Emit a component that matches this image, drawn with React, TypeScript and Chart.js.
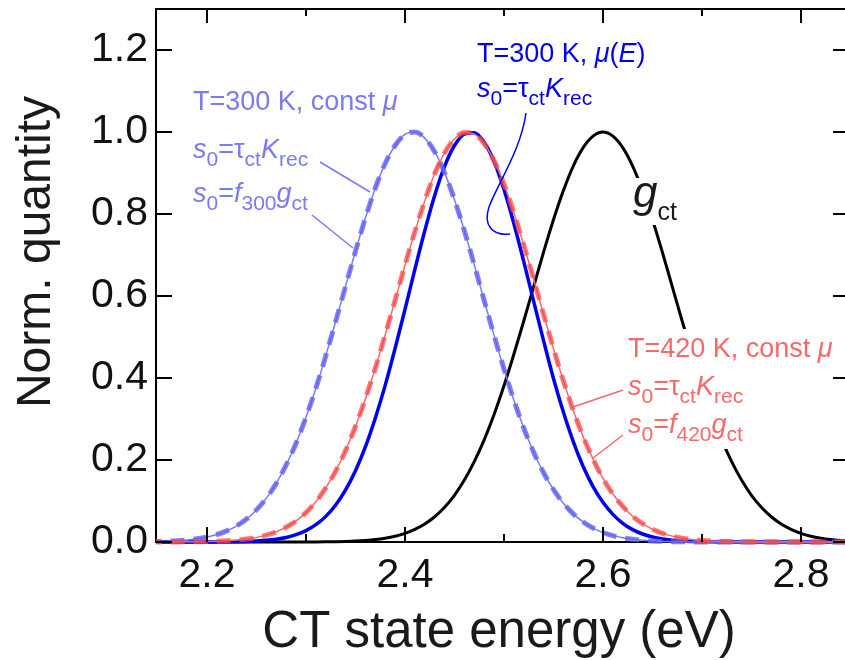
import React, { useEffect, useRef } from "react";
import { Chart, registerables } from "chart.js";

Chart.register(...registerables);

const FONT = "'Liberation Sans', Arial, Helvetica, sans-serif";

// CT state energy grid (eV)
const energy = [
  2.14, 2.15, 2.16, 2.17, 2.18, 2.19, 2.2, 2.21, 2.22, 2.23, 2.24, 2.25, 2.26, 2.27, 2.28, 2.29,
  2.3, 2.31, 2.32, 2.33, 2.34, 2.35, 2.36, 2.37, 2.38, 2.39, 2.4, 2.41, 2.42, 2.43, 2.44, 2.45,
  2.46, 2.47, 2.48, 2.49, 2.5, 2.51, 2.52, 2.53, 2.54, 2.55, 2.56, 2.57, 2.58, 2.59, 2.6, 2.61,
  2.62, 2.63, 2.64, 2.65, 2.66, 2.67, 2.68, 2.69, 2.7, 2.71, 2.72, 2.73, 2.74, 2.75, 2.76, 2.77,
  2.78, 2.79, 2.8, 2.81, 2.82, 2.83, 2.84, 2.85,
];

// T=300 K, const mu (light blue)
const s300Const = [
  0.0007, 0.0011, 0.0019, 0.0031, 0.005, 0.0078, 0.0121, 0.0183, 0.0271, 0.0394, 0.0561, 0.0783, 0.107, 0.143, 0.188, 0.241,
  0.304, 0.375, 0.454, 0.538, 0.624, 0.709, 0.79, 0.863, 0.923, 0.967, 0.994, 1.0, 0.985, 0.952, 0.901, 0.835,
  0.759, 0.676, 0.589, 0.504, 0.422, 0.346, 0.278, 0.219, 0.169, 0.128, 0.0946, 0.0687, 0.0489, 0.034, 0.0232, 0.0155,
  0.0102, 0.0065, 0.0041, 0.0025, 0.0015, 0.0009, 0.0005, 0.0003, 0.0002, 0.0001, 0, 0, 0, 0, 0, 0,
  0, 0, 0, 0, 0, 0, 0, 0,
];

// T=420 K, const mu (red)
const s420Const = [
  0, 0.0001, 0.0001, 0.0002, 0.0004, 0.0006, 0.0011, 0.0018, 0.0029, 0.0046, 0.0072, 0.0111, 0.0168, 0.0249, 0.0361, 0.0514,
  0.0717, 0.0981, 0.132, 0.173, 0.223, 0.282, 0.349, 0.424, 0.505, 0.589, 0.675, 0.757, 0.832, 0.898, 0.949, 0.983,
  0.999, 0.995, 0.972, 0.93, 0.873, 0.803, 0.724, 0.641, 0.555, 0.472, 0.393, 0.321, 0.257, 0.202, 0.155, 0.117,
  0.0867, 0.0629, 0.0447, 0.0312, 0.0213, 0.0143, 0.0094, 0.006, 0.0038, 0.0023, 0.0014, 0.0008, 0.0005, 0.0003, 0.0002, 0.0001,
  0, 0, 0, 0, 0, 0, 0, 0,
];

// T=300 K, mu(E) (blue)
const s300MuE = [
  0, 0, 0, 0, 0, 0, 0.0001, 0.0002, 0.0004, 0.0007, 0.0013, 0.0023, 0.004, 0.0068, 0.0111, 0.0178,
  0.0278, 0.0422, 0.0625, 0.0902, 0.127, 0.174, 0.232, 0.302, 0.382, 0.472, 0.567, 0.665, 0.759, 0.845, 0.916, 0.967,
  0.995, 0.998, 0.975, 0.928, 0.86, 0.777, 0.684, 0.587, 0.491, 0.399, 0.317, 0.245, 0.184, 0.135, 0.0968, 0.0674,
  0.0457, 0.0302, 0.0195, 0.0122, 0.0075, 0.0045, 0.0026, 0.0015, 0.0008, 0.0004, 0.0002, 0.0001, 0, 0, 0, 0,
  0, 0, 0, 0, 0, 0, 0, 0,
];

// g_ct (black)
const gct = [
  0, 0, 0, 0, 0, 0, 0, 0, 0, 0, 0, 0, 0, 0, 0, 0,
  0.0002, 0.0003, 0.0005, 0.0009, 0.0015, 0.0024, 0.0039, 0.0061, 0.0094, 0.0142, 0.0211, 0.0308, 0.0439, 0.0616, 0.0847, 0.114,
  0.151, 0.196, 0.249, 0.311, 0.381, 0.458, 0.539, 0.623, 0.707, 0.786, 0.857, 0.917, 0.962, 0.99, 1.0, 0.99,
  0.962, 0.917, 0.857, 0.786, 0.707, 0.623, 0.539, 0.458, 0.381, 0.311, 0.249, 0.196, 0.151, 0.114, 0.0847, 0.0616,
  0.0439, 0.0308, 0.0211, 0.0142, 0.0094, 0.0061, 0.0039, 0.0024,
];

const xMajorTicks = [2.2, 2.4, 2.6, 2.8];
const xMinorTicks = [2.3, 2.5, 2.7];
const xTickLabels = ["2.2", "2.4", "2.6", "2.8"];
const yTicks = [0, 0.2, 0.4, 0.6, 0.8, 1.0, 1.2];
const yTickLabels = ["0.0", "0.2", "0.4", "0.6", "0.8", "1.0", "1.2"];

const xTitle = "CT state energy (eV)";
const yTitle = "Norm. quantity";

const LIGHT_BLUE = "#7a7af6";
const LIGHT_BLUE_DASH = "rgba(95,95,240,0.78)";
const RED = "#f46a6a";
const RED_DASH = "rgba(250,70,70,0.72)";
const BLUE = "#0000f0";

type Seg = [string, number]; // 0 normal, 1 italic, 2 sub, 3 sub italic

function drawRich(ctx: CanvasRenderingContext2D, x: number, y: number, segs: Seg[], color: string, size: number, subSize: number, drop: number) {
  let cx = x;
  ctx.fillStyle = color;
  ctx.textAlign = "left";
  ctx.textBaseline = "alphabetic";
  for (const [t, s] of segs) {
    const italic = s === 1 || s === 3;
    const sub = s >= 2;
    ctx.font = `${italic ? "italic " : ""}${sub ? subSize : size}px ${FONT}`;
    ctx.fillText(t, cx, sub ? y + drop : y);
    cx += ctx.measureText(t).width;
  }
}

const framePlugin = {
  id: "frameAndNotes",
  afterDatasetsDraw(chart: any) {
    const { ctx } = chart;
    ctx.save();
    // white knock-out boxes behind labels that sit on the g_ct curve
    ctx.fillStyle = "#fff";
    ctx.fillRect(628, 178, 52, 47);
    ctx.fillRect(624, 329, 218, 120);
    ctx.restore();
  },
  afterDraw(chart: any) {
    const { ctx, chartArea: a, scales } = chart;
    const x = scales.x;
    const y = scales.y;
    ctx.save();
    ctx.strokeStyle = "#000";
    ctx.lineWidth = 2;
    ctx.beginPath();
    ctx.moveTo(a.left - 1, a.top);
    ctx.lineTo(a.right + 2, a.top);
    ctx.stroke();
    ctx.beginPath();
    for (const v of xMajorTicks) {
      const px = Math.round(x.getPixelForValue(v));
      ctx.moveTo(px, a.bottom);
      ctx.lineTo(px, a.bottom - 15);
      ctx.moveTo(px, a.top);
      ctx.lineTo(px, a.top + 14);
    }
    for (const v of xMinorTicks) {
      const px = Math.round(x.getPixelForValue(v));
      ctx.moveTo(px, a.bottom);
      ctx.lineTo(px, a.bottom - 8);
      ctx.moveTo(px, a.top);
      ctx.lineTo(px, a.top + 7);
    }
    for (const v of yTicks) {
      const py = Math.round(y.getPixelForValue(v));
      ctx.moveTo(a.left, py);
      ctx.lineTo(a.left + 16, py);
      ctx.moveTo(a.right + 5, py);
      ctx.lineTo(a.right - 12, py);
    }
    ctx.stroke();

    // axis titles
    ctx.fillStyle = "#1a1a1a";
    ctx.font = `51px ${FONT}`;
    ctx.textAlign = "center";
    ctx.textBaseline = "alphabetic";
    ctx.fillText(xTitle, 499, 647);
    ctx.save();
    ctx.translate(50, 252);
    ctx.rotate(-Math.PI / 2);
    ctx.font = `48px ${FONT}`;
    ctx.fillText(yTitle, 0, 0);
    ctx.restore();

    // annotations: T=300 K const mu (light blue)
    drawRich(ctx, 193, 110, [["T=300 K, const ", 0], ["\u03bc", 1]], LIGHT_BLUE, 27, 21, 8);
    drawRich(ctx, 193, 158, [["s", 1], ["0", 2], ["=\u03c4", 0], ["ct", 2], ["K", 1], ["rec", 2]], LIGHT_BLUE, 27, 21, 8);
    drawRich(ctx, 193, 202, [["s", 1], ["0", 2], ["=", 0], ["f", 1], ["300", 2], ["g", 1], ["ct", 2]], LIGHT_BLUE, 27, 21, 8);
    ctx.strokeStyle = LIGHT_BLUE;
    ctx.lineWidth = 1.5;
    ctx.beginPath();
    ctx.moveTo(320, 162);
    ctx.lineTo(370, 192);
    ctx.moveTo(312, 215);
    ctx.lineTo(353, 248);
    ctx.stroke();

    // T=300 K mu(E) (blue)
    drawRich(ctx, 477, 62, [["T=300 K, ", 0], ["\u03bc", 1], ["(", 0], ["E", 1], [")", 0]], BLUE, 27, 21, 8);
    drawRich(ctx, 477, 97, [["s", 1], ["0", 2], ["=\u03c4", 0], ["ct", 2], ["K", 1], ["rec", 2]], BLUE, 27, 21, 8);
    ctx.strokeStyle = BLUE;
    ctx.lineWidth = 1.5;
    ctx.beginPath();
    ctx.moveTo(526, 113);
    ctx.bezierCurveTo(521, 150, 497, 185, 489, 207);
    ctx.bezierCurveTo(483, 225, 492, 236, 510, 234);
    ctx.stroke();

    // T=420 K const mu (red)
    drawRich(ctx, 628, 357, [["T=420 K, const ", 0], ["\u03bc", 1]], RED, 27, 21, 8);
    drawRich(ctx, 628, 395, [["s", 1], ["0", 2], ["=\u03c4", 0], ["ct", 2], ["K", 1], ["rec", 2]], RED, 27, 21, 8);
    drawRich(ctx, 628, 433, [["s", 1], ["0", 2], ["=", 0], ["f", 1], ["420", 2], ["g", 1], ["ct", 2]], RED, 27, 21, 8);
    ctx.strokeStyle = RED;
    ctx.lineWidth = 1.5;
    ctx.beginPath();
    ctx.moveTo(623, 390);
    ctx.lineTo(573, 407);
    ctx.moveTo(623, 435);
    ctx.lineTo(593, 458);
    ctx.stroke();

    // g_ct label
    drawRich(ctx, 633, 207, [["g", 1], ["ct", 2]], "#1a1a1a", 44, 25, 13);
    ctx.restore();
  },
};

function pts(vals: number[]) {
  return energy.map((e, i) => ({ x: e, y: vals[i] }));
}

export default function App() {
  const ref = useRef<HTMLCanvasElement>(null);
  useEffect(() => {
    if (!ref.current) return;
    const clip = { left: 0, top: 0, right: 0, bottom: 6 };
    const base = { pointRadius: 0, fill: false, cubicInterpolationMode: "monotone" as const, clip };
    const chart = new Chart(ref.current, {
      type: "line",
      data: {
        datasets: [
          { ...base, label: "420 dashed", data: pts(s420Const), borderColor: RED_DASH, borderWidth: 5, borderDash: [14, 9], order: 0 },
          { ...base, label: "420 thin", data: pts(s420Const), borderColor: RED, borderWidth: 1.5, order: 1 },
          { ...base, label: "300 dashed", data: pts(s300Const), borderColor: LIGHT_BLUE_DASH, borderWidth: 5, borderDash: [14, 9], order: 2 },
          { ...base, label: "300 thin", data: pts(s300Const), borderColor: LIGHT_BLUE, borderWidth: 1.5, order: 3 },
          { ...base, label: "300 muE", data: pts(s300MuE), borderColor: BLUE, borderWidth: 3.5, order: 4 },
          { ...base, label: "gct", data: pts(gct), borderColor: "#000", borderWidth: 3, order: 5 },
        ],
      },
      options: {
        animation: false,
        responsive: false,
        devicePixelRatio: 1,
        layout: { padding: { top: 9, right: 0, left: 0, bottom: 0 } },
        plugins: { legend: { display: false }, tooltip: { enabled: false } },
        scales: {
          x: {
            type: "linear",
            min: 2.1485,
            max: 2.8445,
            afterBuildTicks: (s: any) => {
              s.ticks = xMajorTicks.map((v) => ({ value: v }));
            },
            afterFit: (s: any) => {
              s.height = 118;
              s.paddingLeft = 0;
              s.paddingRight = 0;
            },
            ticks: {
              callback: (v: any) => {
                const i = xMajorTicks.findIndex((m) => Math.abs(m - Number(v)) < 1e-6);
                return i >= 0 ? xTickLabels[i] : "";
              },
              font: { family: FONT, size: 41 },
              color: "#111",
              padding: 9,
              maxRotation: 0,
              autoSkip: false,
            },
            grid: { display: false, drawTicks: false },
            border: { display: true, color: "#000", width: 2 },
          },
          y: {
            type: "linear",
            min: 0,
            max: 1.3,
            afterBuildTicks: (s: any) => {
              s.ticks = yTicks.map((v) => ({ value: v }));
            },
            afterFit: (s: any) => {
              s.width = 156;
              s.paddingTop = 0;
              s.paddingBottom = 0;
            },
            ticks: {
              callback: (v: any) => {
                const i = yTicks.findIndex((m) => Math.abs(m - Number(v)) < 1e-6);
                return i >= 0 ? yTickLabels[i] : "";
              },
              font: { family: FONT, size: 41 },
              color: "#111",
              padding: 8,
              autoSkip: false,
            },
            grid: { display: false, drawTicks: false },
            border: { display: true, color: "#000", width: 2 },
          },
        },
      },
      plugins: [framePlugin],
    });
    return () => chart.destroy();
  }, []);
  return (
    <div style={{ position: "fixed", left: 0, top: 0, width: 845, height: 660, background: "#fff" }}>
      <canvas ref={ref} width={845} height={660} style={{ width: 845, height: 660, display: "block" }} />
    </div>
  );
}
